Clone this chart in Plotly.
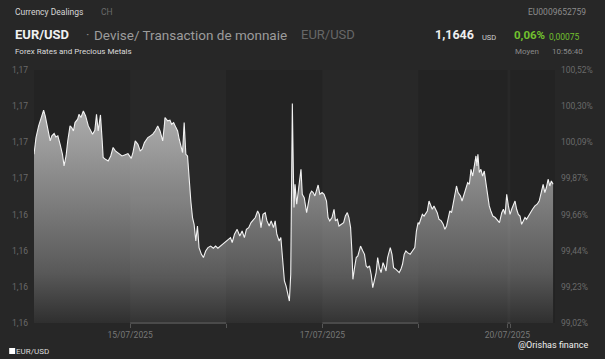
import plotly.graph_objects as go

# ---------------- data ----------------
# time axis: trading hours since 14/07/2025 00:00 (weekend gap compressed)
hours = [0.0, 0.5, 1.16, 1.73, 2.4, 2.8, 3.22, 3.64, 4.04, 4.46, 5.03, 5.45, 5.95, 6.52, 7.11, 7.51, 8.0, 8.43, 9.0, 9.42,
         9.84, 10.24, 10.9, 11.23, 11.72, 12.32, 12.89, 13.56, 14.13, 14.62, 15.19, 15.61, 16.03, 16.6, 17.03, 17.27, 17.84,
         18.51, 19.16, 19.75, 20.32, 20.82, 21.39, 21.98, 22.63, 23.47, 24.29, 24.71, 25.28, 25.95, 26.52, 27.01, 27.58,
         28.43, 29.07, 29.67, 30.24, 30.9, 31.47, 32.14, 32.54, 32.71, 33.38, 33.95, 34.37, 34.87, 35.44, 35.86, 36.26,
         36.68, 37.1, 37.5, 37.92, 38.34, 38.74, 39.16, 39.58, 39.98, 40.4, 40.82, 41.21, 41.81, 42.31, 42.87, 43.44,
         44.11, 44.78, 45.35, 45.92, 46.59, 47.41, 48.25, 49.07, 49.49, 50.06, 50.73, 51.38, 51.97, 52.54, 53.04, 53.61,
         54.2, 54.85, 55.27, 55.84, 56.26, 56.68, 57.18, 57.74, 58.17, 58.74, 59.23, 59.8, 60.22, 60.64, 61.21, 61.64,
         62.13, 62.53, 62.95, 63.37, 63.77, 64.11, 64.36, 64.51, 64.76, 64.93, 65.18, 65.6, 66.0, 66.42, 66.67, 66.99,
         67.48, 68.08, 68.48, 68.9, 69.32, 69.72, 70.14, 70.56, 70.95, 71.38, 71.95, 72.44, 73.04, 73.43, 73.85, 74.42,
         74.92, 75.27, 75.76, 76.16, 76.75, 77.32, 77.75, 78.24, 78.64, 79.06, 79.38, 79.63, 80.05, 80.47, 80.87, 81.54,
         82.11, 82.53, 82.95, 83.35, 83.77, 84.19, 84.59, 85.01, 85.43, 85.82, 86.25, 86.67, 87.16, 87.48, 87.91, 88.3,
         88.97, 89.39, 89.79, 90.38, 90.78, 91.2, 91.62, 92.02, 92.44, 92.86, 93.26, 93.93, 94.5, 95.09, 95.49, 95.91,
         96.16, 96.58, 96.98, 97.4, 97.82, 98.22, 98.64, 99.06, 99.45, 99.88, 100.3, 100.69, 101.12, 101.69, 102.18,
         102.6, 103.02, 103.42, 103.84, 104.26, 104.66, 105.01, 105.5, 105.9, 106.49, 106.89, 107.31, 107.88, 108.3,
         108.72, 109.12, 109.54, 109.96, 110.36, 110.61, 110.85, 111.2, 111.6, 112.02, 112.44, 112.84, 113.26, 113.68,
         114.08, 114.57, 115.17, 115.74, 116.23, 116.8, 117.22, 117.65, 118.04, 118.46, 118.88, 119.28, 119.7, 120.12,
         120.52, 120.94, 121.36, 121.76, 122.18, 122.6, 123.0, 123.42, 123.84, 124.49, 125.08, 125.65, 126.15, 126.72,
         127.14, 127.56, 127.95, 128.38, 128.8, 129.19, 129.62, 130.04]

# EUR/USD level in % of reference price (right axis)
pct = [100.016, 100.115, 100.184, 100.224, 100.277, 100.243, 100.194, 100.154, 100.095, 100.125, 100.139, 100.119,
       100.125, 100.075, 100.016, 99.947, 100.006, 100.095, 100.184, 100.174, 100.154, 100.204, 100.224, 100.253,
       100.234, 100.273, 100.243, 100.184, 100.154, 100.135, 100.158, 100.253, 100.154, 100.249, 100.095, 99.997,
       99.986, 99.976, 100.006, 100.056, 100.036, 100.026, 100.016, 100.006, 100.012, 100.020, 99.992, 100.026,
       100.095, 100.075, 100.036, 100.046, 100.085, 100.115, 100.125, 100.135, 100.154, 100.184, 100.154, 100.095,
       100.184, 100.234, 100.214, 100.218, 100.194, 100.204, 100.174, 100.154, 100.105, 100.056, 100.026, 100.204,
       100.016, 100.006, 99.858, 99.739, 99.641, 99.601, 99.502, 99.591, 99.463, 99.423, 99.404, 99.443, 99.463,
       99.472, 99.459, 99.472, 99.459, 99.472, 99.487, 99.502, 99.522, 99.493, 99.542, 99.571, 99.532, 99.561,
       99.522, 99.571, 99.581, 99.611, 99.631, 99.641, 99.680, 99.660, 99.581, 99.660, 99.670, 99.621, 99.591,
       99.621, 99.581, 99.621, 99.542, 99.502, 99.522, 99.404, 99.265, 99.235, 99.186, 99.146, 99.305, 99.976,
       100.317, 99.917, 99.700, 99.838, 99.720, 99.798, 99.908, 99.927, 99.779, 99.759, 99.670, 99.720, 99.779,
       99.798, 99.789, 99.769, 99.809, 99.834, 99.779, 99.789, 99.779, 99.739, 99.641, 99.621, 99.641, 99.690,
       99.621, 99.631, 99.591, 99.601, 99.611, 99.650, 99.670, 99.641, 99.581, 99.443, 99.275, 99.344, 99.404,
       99.413, 99.472, 99.443, 99.423, 99.354, 99.344, 99.354, 99.305, 99.226, 99.275, 99.315, 99.404, 99.344,
       99.315, 99.374, 99.354, 99.324, 99.404, 99.463, 99.423, 99.344, 99.334, 99.324, 99.315, 99.334, 99.364,
       99.423, 99.443, 99.433, 99.423, 99.443, 99.463, 99.561, 99.611, 99.601, 99.631, 99.660, 99.650, 99.670,
       99.680, 99.739, 99.710, 99.690, 99.710, 99.690, 99.670, 99.631, 99.621, 99.601, 99.571, 99.591, 99.631,
       99.680, 99.670, 99.730, 99.769, 99.828, 99.789, 99.769, 99.739, 99.769, 99.809, 99.848, 99.838, 99.927,
       99.887, 99.947, 100.006, 99.947, 100.016, 99.908, 99.927, 99.887, 99.917, 99.848, 99.769, 99.710, 99.680,
       99.650, 99.641, 99.621, 99.611, 99.670, 99.690, 99.660, 99.779, 99.710, 99.660, 99.690, 99.710, 99.739,
       99.690, 99.660, 99.650, 99.601, 99.621, 99.641, 99.631, 99.650, 99.670, 99.690, 99.710, 99.720, 99.739,
       99.809, 99.838, 99.789, 99.819, 99.868, 99.828, 99.858, 99.838]

# day boundaries (trading hours) and labels
day_starts = [0.0, 24.0, 48.0, 72.0, 96.0, 118.2, 118.95]
day_ends = [24.0, 48.0, 72.0, 96.0, 118.2, 118.95, 130.1]
highlight_days = [1, 3]            # 15/07 and 17/07
x_tickvals = [24.0, 48.0, 72.0, 96.0, 118.2, 118.95]
x_ticktext = ["15/07/2025", "", "17/07/2025", "", "20/07/2025", ""]

y_range = [99.016, 100.5154]
left_ticktext = ["1,16", "1,16", "1,16", "1,16", "1,17", "1,17", "1,17", "1,17"]
right_ticktext = ["99,02%", "99,23%", "99,44%", "99,66%", "99,87%", "100,09%", "100,30%", "100,52%"]
n_ticks = len(left_ticktext)
y_tickvals = [y_range[0] + i * (y_range[1] - y_range[0]) / (n_ticks - 1) for i in range(n_ticks)]

# ---------------- figure ----------------
W, H = 605, 359
ML, MR, MT, MB = 32, 48, 70, 36
PW, PH = W - ML - MR, H - MT - MB

def px(x):
    return (x - ML) / PW

def py(y):
    return (H - MB - y) / PH

FONT = "Roboto, Arial, sans-serif"

fig = go.Figure()
fig.add_trace(go.Scatter(
    x=hours, y=pct, mode="lines",
    line=dict(color="#f2f2f2", width=1.1),
    fill="tozeroy",
    fillgradient=dict(type="vertical", start=y_range[0], stop=y_range[1],
                      colorscale=[[0, "#2f2f2f"], [0.2, "#595959"], [1, "#c2c2c2"]]),
    showlegend=False, hoverinfo="skip", yaxis="y"))
fig.add_trace(go.Scatter(x=[hours[0]], y=[pct[0]], mode="lines", line=dict(width=0),
                         showlegend=False, hoverinfo="skip", yaxis="y2"))

shapes = []
for i in highlight_days + [5]:
    shapes.append(dict(type="rect", xref="x", yref="paper", x0=day_starts[i], x1=day_ends[i], y0=0, y1=1,
                       fillcolor="rgba(255,255,255,0.022)", line=dict(width=0), layer="above"))
    shapes.append(dict(type="rect", xref="x", yref="paper", ysizemode="pixel", yanchor=0,
                       x0=day_starts[i], x1=day_ends[i], y0=-1, y1=1,
                       fillcolor="#4a4a4a", line=dict(width=0), layer="above"))

fig.update_layout(
    width=W, height=H, autosize=False,
    margin=dict(l=ML, r=MR, t=MT, b=MB, pad=0),
    paper_bgcolor="#272727", plot_bgcolor="#232323",
    font=dict(family=FONT, color="#6e6e6e", size=9),
    shapes=shapes,
    xaxis=dict(range=[0, 130.1], showgrid=False, zeroline=False, showline=False,
               tickvals=x_tickvals, ticktext=x_ticktext, ticks="outside", ticklen=4,
               tickcolor="#555555", tickwidth=1, tickfont=dict(size=8.5, color="#777777")),
    yaxis=dict(range=y_range, showgrid=False, zeroline=False, showline=False,
               tickvals=y_tickvals, ticktext=left_ticktext, ticks="", ticklabelstandoff=5,
               tickfont=dict(size=8.5, color="#6a6a6a")),
    yaxis2=dict(range=y_range, overlaying="y", side="right", showgrid=False, zeroline=False,
                showline=False, tickvals=y_tickvals, ticktext=right_ticktext, ticks="",
                ticklabelstandoff=5, tickfont=dict(size=8.5, color="#6a6a6a")),
)

def txt(x, y, s, size, color, anchor="left", bold=False):
    fig.add_annotation(x=px(x), y=py(y), xref="paper", yref="paper", text=("<b>%s</b>" % s) if bold else s,
                       showarrow=False, xanchor=anchor, yanchor="middle", borderpad=0,
                       font=dict(family=FONT, size=size, color=color))

txt(12, 12, "Currency Dealings", 8.5, "#d6d6d6")
txt(99, 12, "CH", 8.5, "#6a6a6a")
txt(589, 12, "EU0009652759", 8.5, "#8c8c8c", anchor="right")
txt(12, 35, "EUR/USD", 13, "#f0f0f0", bold=True)
txt(83, 35, "·", 13, "#8a8a8a")
txt(91, 35, "Devise/ Transaction de monnaie", 13.5, "#9c9c9c")
txt(300, 35, "EUR/USD", 13, "#676767")
txt(435, 35, "1,1646", 12.5, "#eeeeee", bold=True)
txt(482, 37, "USD", 7.5, "#cfcfcf")
txt(515, 35, "0,06%", 11.5, "#72c12e", bold=True)
txt(550, 37, "0,00075", 8.5, "#72c12e")
txt(516, 52, "Moyen", 8, "#8a8a8a")
txt(553, 52, "10:56:40", 8, "#8a8a8a")
txt(12, 52, "Forex Rates and Precious Metals", 8, "#dcdcdc")
txt(13, 351, "EUR/USD", 8, "#dcdcdc")
txt(591, 345, "@Orishas finance", 9, "#f0f0f0", anchor="right")

fig.add_shape(type="rect", xref="paper", yref="paper", x0=px(7), x1=px(13), y0=py(354), y1=py(348),
              fillcolor="#ffffff", line=dict(width=0))

fig.write_html("out.html", config={"displayModeBar": False, "staticPlot": True},
               post_script=["document.body.style.margin='0';document.body.style.background='#272727';"])
